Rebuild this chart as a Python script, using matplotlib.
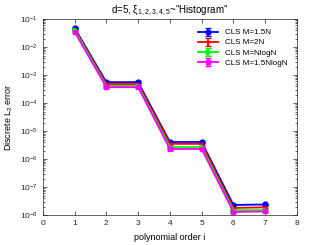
import numpy as np
from matplotlib import pyplot as plt
from matplotlib.ticker import NullFormatter

# polynomial orders and errors
order = [1, 2, 3, 4, 5, 6, 7]
err_15N = [4.8e-2, 5.6e-4, 5.6e-4, 4.1e-6, 4.1e-6, 2.3e-8, 2.4e-8]
err_2N = [4.3e-2, 4.8e-4, 4.8e-4, 3.5e-6, 3.5e-6, 1.8e-8, 1.9e-8]
err_NlogN = [4.0e-2, 4.1e-4, 4.1e-4, 2.7e-6, 2.7e-6, 1.5e-8, 1.5e-8]
err_15NlogN = [3.5e-2, 3.7e-4, 3.7e-4, 2.3e-6, 2.3e-6, 1.3e-8, 1.35e-8]

series = [
    ("CLS M=1.5N", err_15N, "#0000ff", "o"),
    ("CLS M=2N", err_2N, "#ff0000", "+"),
    ("CLS M=NlogN", err_NlogN, "#00ff00", ">"),
    ("CLS M=1.5NlogN", err_15NlogN, "#ff00ff", "s"),
]

plt.rcParams["font.family"] = "Liberation Sans"
plt.rcParams["font.size"] = 6
plt.rcParams["mathtext.fontset"] = "custom"
plt.rcParams["mathtext.rm"] = "Liberation Sans"

fig = plt.figure(figsize=(3.27, 2.45), dpi=100)
ax = fig.add_axes([0.131, 0.122, 0.777, 0.8])

for name, vals, col, mk in series:
    vals = np.array(vals)
    ax.errorbar(order, vals, yerr=0.08 * vals, color=col, marker=mk,
                markersize=3.5, linewidth=1.3, capsize=2, label=name)

ax.set_yscale("log")
ax.set_xlim(0, 8)
ax.set_ylim(1e-8, 1e-1)
ax.set_xticks(range(9))
ax.yaxis.set_minor_formatter(NullFormatter())
ax.tick_params(which="both", direction="in", top=True, right=True,
               colors="#262626", labelsize=6, width=0.5)
ax.tick_params(which="major", length=3)
ax.tick_params(which="minor", length=1.5)
for s in ax.spines.values():
    s.set_linewidth(0.5)
    s.set_color("#262626")

ax.set_title("d=5, ξ$_\\mathregular{1,2,3,4,5}$~\"Histogram\"", fontsize=7, pad=4)
ax.set_xlabel("polynomial order i", fontsize=6.5)
ax.set_ylabel("Discrete L$_\\mathregular{2}$ error", fontsize=6.5)
ax.legend(loc="upper right", fontsize=5.8, frameon=False, handlelength=2.5,
          labelspacing=0.3, borderaxespad=0.8)

fig.savefig("out.png", dpi=100)
